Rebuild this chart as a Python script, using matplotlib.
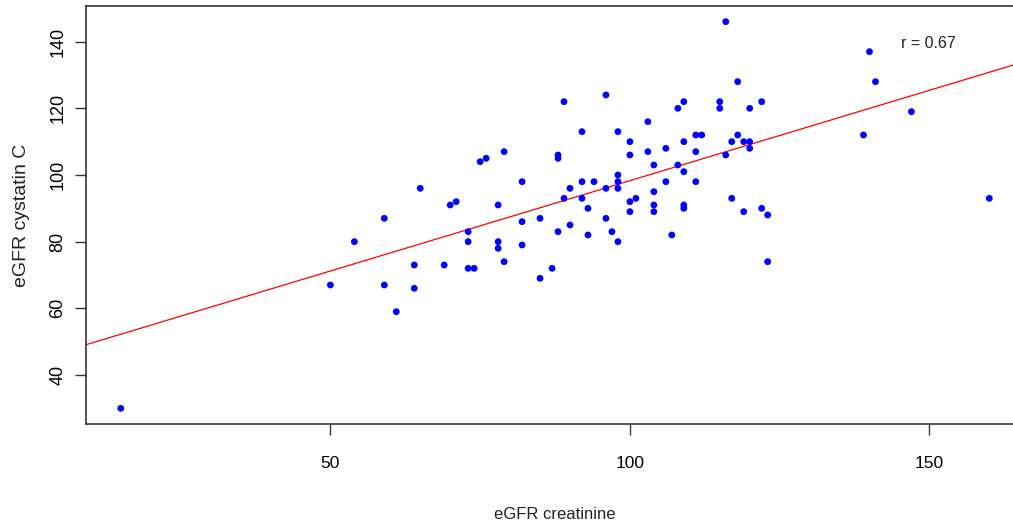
import numpy as np
import matplotlib
matplotlib.use("Agg")
import matplotlib.pyplot as plt

plt.rcParams["font.family"] = ["Liberation Sans", "DejaVu Sans"]

# eGFR creatinine (x) and eGFR cystatin C (y)
egfr_creat = [15, 50, 54, 59, 59, 61, 64, 64, 65, 69,
              70, 71, 73, 73, 73, 74, 75, 76, 78, 78,
              78, 79, 79, 82, 82, 82, 85, 85, 87, 88,
              88, 88, 89, 89, 90, 90, 92, 92, 92, 93,
              93, 94, 96, 96, 96, 97, 98, 98, 98, 98,
              98, 100, 100, 100, 100, 101, 103, 103, 104, 104,
              104, 104, 106, 106, 107, 108, 108, 109, 109, 109,
              109, 109, 111, 111, 111, 112, 115, 115, 116, 116,
              117, 117, 118, 118, 119, 119, 120, 120, 120, 122,
              122, 123, 123, 139, 140, 141, 147, 160]
egfr_cysc = [30, 67, 80, 87, 67, 59, 73, 66, 96, 73,
             91, 92, 83, 80, 72, 72, 104, 105, 91, 80,
             78, 107, 74, 98, 86, 79, 69, 87, 72, 106,
             105, 83, 122, 93, 96, 85, 113, 98, 93, 90,
             82, 98, 124, 96, 87, 83, 113, 100, 98, 96,
             80, 110, 106, 92, 89, 93, 116, 107, 103, 95,
             91, 89, 108, 98, 82, 120, 103, 122, 110, 101,
             91, 90, 112, 107, 98, 112, 122, 120, 146, 106,
             110, 93, 128, 112, 89, 110, 120, 110, 108, 122,
             90, 88, 74, 112, 137, 128, 119, 93]

# regression line as drawn (abline)
line_intercept = 44.1
line_slope = 0.542
r_label = "r = 0.67"

x = np.array(egfr_creat)
y = np.array(egfr_cysc)

fig = plt.figure(figsize=(10.13, 5.24), dpi=100)
ax = fig.add_axes([0.0849, 0.1912, 0.926, 0.797])

ax.scatter(x, y, s=24, color="#0000ff", edgecolors="none", zorder=3)
ax.axline((0, line_intercept), slope=line_slope, color="#ff0000", lw=0.9, zorder=2)

# R style 4% axis padding
xpad = (x.max() - x.min()) * 0.04
ypad = (y.max() - y.min()) * 0.04
ax.set_xlim(x.min() - xpad, x.max() + xpad)
ax.set_ylim(y.min() - ypad, y.max() + ypad)

ax.set_xticks([50, 100, 150])
ax.set_yticks([40, 60, 80, 100, 120, 140])
ax.tick_params(axis="x", length=8, width=1, color="#333333", pad=15, labelsize=12.5)
ax.tick_params(axis="y", length=8, width=1, color="#333333", pad=6, labelsize=13)
for lbl in ax.get_yticklabels():
    lbl.set_rotation(90)
    lbl.set_va("center")

for sp in ax.spines.values():
    sp.set_color("#333333")
    sp.set_linewidth(1.2)

ax.set_xlabel("eGFR creatinine", fontsize=12, labelpad=26, color="#222222")
ax.set_ylabel("eGFR cystatin C", fontsize=14, labelpad=14, color="#222222")

ax.text(149.8, 139.3, r_label, fontsize=11.5, ha="center", va="center", color="#222222")

fig.savefig("out.png", dpi=100)
